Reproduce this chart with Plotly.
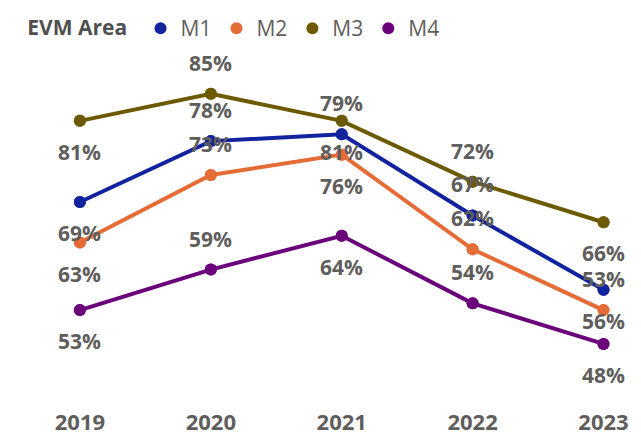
import plotly.graph_objects as go

# data
years = ["2019", "2020", "2021", "2022", "2023"]
series_names = ["M1", "M2", "M3", "M4"]
m1 = [69, 78, 79, 67, 56]
m2 = [63, 73, 76, 62, 53]
m3 = [81, 85, 81, 72, 66]
m4 = [53, 59, 64, 54, 48]

# label placement: +1 above the point, -1 below
m1_pos = [-1, 1, 1, 1, -1]
m2_pos = [-1, 1, -1, 1, 1]
m3_pos = [-1, 1, -1, 1, -1]
m4_pos = [-1, 1, -1, 1, -1]

colors = ["#12239E", "#E66C37", "#6B5A00", "#6B007B"]
font_family = "Segoe UI, Open Sans, sans-serif"
label_grey = "#605E5C"

x_idx = list(range(len(years)))

fig = go.Figure()
for name, vals, pos, col in zip(series_names, [m1, m2, m3, m4],
                                [m1_pos, m2_pos, m3_pos, m4_pos], colors):
    # line + points (no legend entry)
    fig.add_trace(go.Scatter(
        x=x_idx, y=vals, name=name, mode="lines+markers",
        line=dict(color=col, width=4),
        marker=dict(color=col, size=12),
        showlegend=False,
    ))
    # same points again, used for the dot-only legend entry
    fig.add_trace(go.Scatter(
        x=x_idx, y=vals, name=name, mode="markers",
        marker=dict(color=col, size=12),
    ))
    for i, (v, p) in enumerate(zip(vals, pos)):
        fig.add_annotation(
            x=i, y=v, text=f"{v}%", showarrow=False,
            yshift=31 * p,
            font=dict(family=font_family, size=21, color=label_grey, weight="bold"),
        )

# page has an 8px body margin, so margins are offset to match the reference
fig.update_layout(
    width=641, height=441,
    margin=dict(l=2, r=10, t=52, b=51, autoexpand=False),
    plot_bgcolor="white", paper_bgcolor="white",
    font=dict(family=font_family, color=label_grey),
    legend=dict(
        orientation="h", x=0.027, xanchor="left", y=1.0, yanchor="top",
        yref="container", xref="container",
        title=dict(text="<b>EVM Area</b> ", font=dict(size=21, color="#505050")),
        font=dict(size=21, color=label_grey),
        itemwidth=30, tracegroupgap=0,
    ),
    xaxis=dict(
        range=[-0.534, 4.271], automargin=False,
        tickmode="array", tickvals=x_idx, ticktext=years,
        showgrid=False, zeroline=False, showline=False,
        ticks="outside", ticklen=5, tickcolor="white",
        tickfont=dict(size=22, color=label_grey, weight="bold"),
    ),
    yaxis=dict(range=[40, 90], visible=False, automargin=False),
    showlegend=True,
)

fig.write_html("out.html")
